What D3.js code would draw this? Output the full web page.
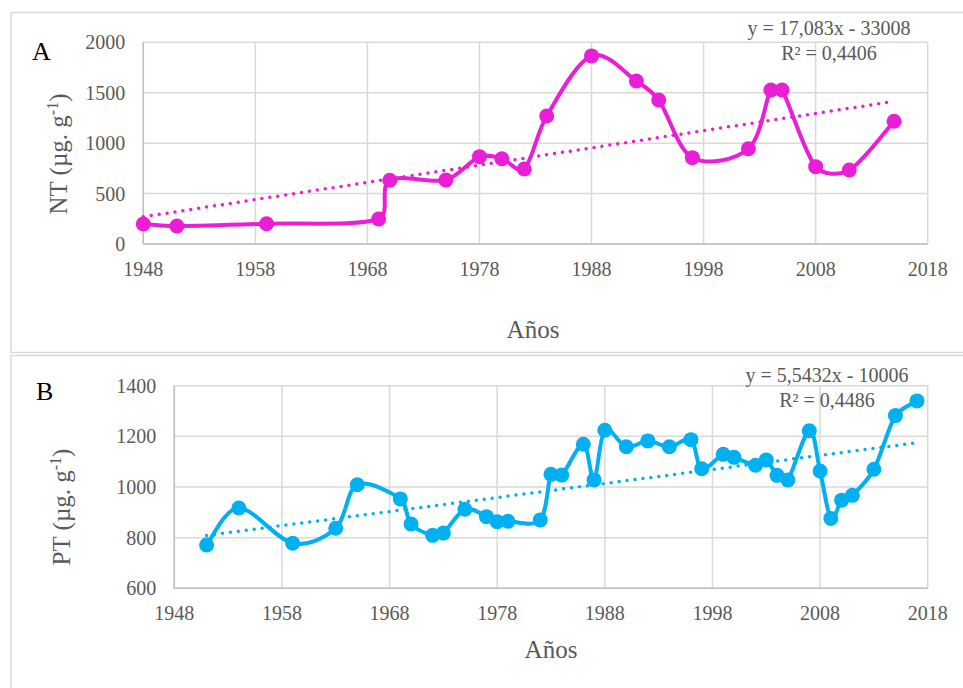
<!DOCTYPE html>
<html>
<head>
<meta charset="utf-8">
<script src="https://cdn.jsdelivr.net/npm/d3@7"></script>
<style>
  body { margin: 0; background: #fff; }
  text { font-family: "Liberation Serif", "Times New Roman", serif; }
</style>
</head>
<body>
<div id="chart"></div>
<script>
// panel A data (NT)
var ntYears = [1948, 1951, 1959, 1969, 1970, 1975, 1978, 1980, 1982, 1984, 1988, 1992, 1994, 1997, 2002, 2004, 2005, 2008, 2011, 2015];
var ntValues = [198, 178, 201, 248, 632, 635, 866, 846, 744, 1269, 1865, 1616, 1428, 856, 945, 1527, 1527, 767, 734, 1217];
var ntTicks = [0, 500, 1000, 1500, 2000];

// panel B data (PT)
var ptYears = [1951, 1954, 1959, 1963, 1965, 1969, 1970, 1972, 1973, 1975, 1977, 1978, 1979, 1982, 1983, 1984, 1986, 1987, 1988, 1990, 1992, 1994, 1996, 1997, 1999, 2000, 2002, 2003, 2004, 2005, 2007, 2008, 2009, 2010, 2011, 2013, 2015, 2017];
var ptValues = [771, 917, 778, 837, 1009, 953, 854, 809, 818, 912, 883, 863, 865, 870, 1050, 1047, 1169, 1028, 1224, 1159, 1182, 1159, 1187, 1072, 1129, 1117, 1086, 1107, 1046, 1028, 1222, 1063, 876, 948, 967, 1070, 1282, 1340];
var ptTicks = [600, 800, 1000, 1200, 1400];

var yearTicks = [1948, 1958, 1968, 1978, 1988, 1998, 2008, 2018];

// trendlines (from the chart equations)
var ntTrend = { slope: 17.083, icpt: -33008, eq: "y = 17,083x - 33008", r2: "R² = 0,4406" };
var ptTrend = { slope: 5.5432, icpt: -10006, eq: "y = 5,5432x - 10006", r2: "R² = 0,4486" };

var svg = d3.select("#chart")
    .append("svg")
    .attr("width", 963)
    .attr("height", 688);

// panel frames
svg.append("rect").attr("x", 11).attr("y", 12.5).attr("width", 970).attr("height", 340)
    .attr("fill", "none").attr("stroke", "#d9d9d9").attr("stroke-width", 1.5);
svg.append("rect").attr("x", 11).attr("y", 355.5).attr("width", 970).attr("height", 360)
    .attr("fill", "none").attr("stroke", "#d9d9d9").attr("stroke-width", 1.5);

// excel-like smoothing: catmull-rom tangents, clamped on short segments
function smoothPath(p) {
    var path = d3.path();
    var n = p.length;
    var tan = p.map(function (d, i) {
        var a = p[Math.max(i - 1, 0)], b = p[Math.min(i + 1, n - 1)];
        return [(b[0] - a[0]) / 6, (b[1] - a[1]) / 6];
    });
    function clamp(t, len) {
        var l = Math.hypot(t[0], t[1]), m = len / 3;
        return l > m ? [t[0] * m / l, t[1] * m / l] : t;
    }
    path.moveTo(p[0][0], p[0][1]);
    for (var i = 0; i < n - 1; i++) {
        var len = Math.hypot(p[i + 1][0] - p[i][0], p[i + 1][1] - p[i][1]);
        var t1 = clamp(tan[i], len), t2 = clamp(tan[i + 1], len);
        path.bezierCurveTo(p[i][0] + t1[0], p[i][1] + t1[1],
            p[i + 1][0] - t2[0], p[i + 1][1] - t2[1], p[i + 1][0], p[i + 1][1]);
    }
    return path.toString();
}

function drawPanel(opt) {
    var x = d3.scaleLinear().domain([1948, 2018]).range([opt.left, opt.right]);
    var y = d3.scaleLinear().domain(opt.yDomain).range([opt.bottom, opt.top]);

    var g = svg.append("g");

    // grid
    g.selectAll(".vg").data(yearTicks).enter().append("line")
        .attr("x1", d => x(d)).attr("x2", d => x(d))
        .attr("y1", opt.top).attr("y2", opt.bottom)
        .attr("stroke", "#d9d9d9").attr("stroke-width", 1.5);
    g.selectAll(".hg").data(opt.ticks).enter().append("line")
        .attr("x1", opt.left).attr("x2", opt.right)
        .attr("y1", d => y(d)).attr("y2", d => y(d))
        .attr("stroke", "#d9d9d9").attr("stroke-width", 1.5);
    // axis lines
    g.append("line").attr("x1", opt.left).attr("x2", opt.left).attr("y1", opt.top).attr("y2", opt.bottom)
        .attr("stroke", "#bfbfbf").attr("stroke-width", 1.5);
    g.append("line").attr("x1", opt.left).attr("x2", opt.right).attr("y1", opt.bottom).attr("y2", opt.bottom)
        .attr("stroke", "#bfbfbf").attr("stroke-width", 1.5);

    // tick labels
    g.selectAll(".yl").data(opt.ticks).enter().append("text")
        .attr("x", opt.left - 18).attr("y", d => y(d) + 7)
        .attr("text-anchor", "end").attr("fill", "#595959").style("font-size", "20px")
        .text(d => d);
    g.selectAll(".xl").data(yearTicks).enter().append("text")
        .attr("x", d => x(d)).attr("y", opt.bottom + 32)
        .attr("text-anchor", "middle").attr("fill", "#595959").style("font-size", "20px")
        .text(d => d);

    // trendline
    var tx = [opt.years[0], opt.years[opt.years.length - 1]];
    g.append("line")
        .attr("x1", x(tx[0])).attr("y1", y(opt.trend.slope * tx[0] + opt.trend.icpt))
        .attr("x2", x(tx[1])).attr("y2", y(opt.trend.slope * tx[1] + opt.trend.icpt))
        .attr("stroke", opt.color).attr("stroke-width", 3.5)
        .attr("stroke-linecap", "round").attr("stroke-dasharray", "0,8");

    // smoothed line
    var pts = opt.years.map((d, i) => [x(d), y(opt.values[i])]);
    g.append("path").attr("d", smoothPath(pts))
        .attr("fill", "none").attr("stroke", opt.color).attr("stroke-width", 4);
    g.selectAll("circle").data(pts).enter().append("circle")
        .attr("cx", d => d[0]).attr("cy", d => d[1]).attr("r", 7.5)
        .attr("fill", opt.color);

    // equation
    g.append("text").attr("x", opt.eqX).attr("y", opt.eqY).attr("text-anchor", "middle")
        .attr("fill", "#595959").style("font-size", "20px").text(opt.trend.eq);
    g.append("text").attr("x", opt.eqX).attr("y", opt.eqY + 25).attr("text-anchor", "middle")
        .attr("fill", "#595959").style("font-size", "20px").text(opt.trend.r2);

    // panel letter
    g.append("text").attr("x", opt.letterX).attr("y", opt.letterY)
        .attr("fill", "#000").style("font-size", "26px").text(opt.letter);

    // axis titles
    g.append("text").attr("x", opt.xTitleX).attr("y", opt.xTitleY).attr("text-anchor", "middle")
        .attr("fill", "#595959").style("font-size", "25px").text("Años");
    var yt = g.append("text")
        .attr("transform", "translate(" + opt.yTitleX + "," + opt.yTitleY + ") rotate(-90)")
        .attr("text-anchor", "middle").attr("fill", "#595959").style("font-size", "25px");
    yt.append("tspan").text(opt.yName + " (µg. g");
    yt.append("tspan").attr("dy", -9).style("font-size", "16px").text("-1");
    yt.append("tspan").attr("dy", 9).text(")");
}

drawPanel({
    left: 143.3, right: 927.7, top: 42.3, bottom: 244,
    yDomain: [0, 2000], ticks: ntTicks,
    years: ntYears, values: ntValues, trend: ntTrend,
    color: "#e91ed6", eqX: 829, eqY: 35,
    letter: "A", letterX: 32, letterY: 60,
    xTitleX: 533, xTitleY: 338,
    yTitleX: 67, yTitleY: 154, yName: "NT"
});

drawPanel({
    left: 174.3, right: 927.7, top: 385.7, bottom: 588.3,
    yDomain: [600, 1400], ticks: ptTicks,
    years: ptYears, values: ptValues, trend: ptTrend,
    color: "#00b0f0", eqX: 827, eqY: 382,
    letter: "B", letterX: 36, letterY: 400,
    xTitleX: 551, xTitleY: 658,
    yTitleX: 70, yTitleY: 507, yName: "PT"
});
</script>
</body>
</html>
